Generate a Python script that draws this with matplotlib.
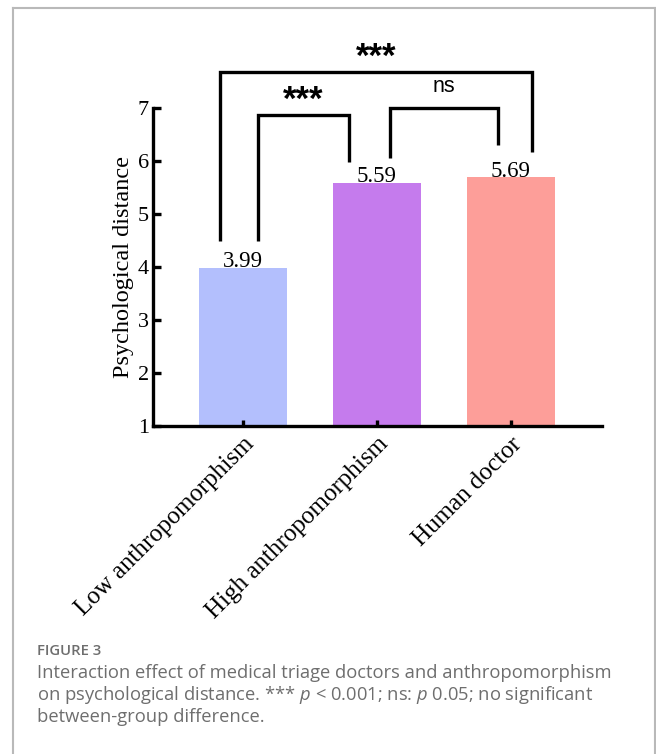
import matplotlib
matplotlib.use("Agg")
import matplotlib.pyplot as plt
from matplotlib.lines import Line2D

plt.rcParams["mathtext.fontset"] = "custom"
plt.rcParams["mathtext.it"] = "Open Sans:italic"
plt.rcParams["mathtext.rm"] = "Open Sans"

# data
groups = ["Low anthropomorphism", "High anthropomorphism", "Human doctor"]
means = [3.99, 5.59, 5.69]
colors = ["#b3bffd", "#c57bed", "#fd9e99"]

# significance brackets: x left, x right, y left leg, y right leg, y top, label
brackets = [
    (-0.17, 2.16, 4.49, 6.17, 7.68, "***"),
    (0.11, 0.79, 4.49, 5.98, 6.87, "***"),
    (1.10, 1.90, 6.06, 6.30, 7.00, "ns"),
]

serif = "Liberation Serif"
sans = "Liberation Sans"

fig = plt.figure(figsize=(6.56, 7.54), dpi=100)
ax = fig.add_axes([0.2332, 0.435, 0.6845, 0.4218])

ax.bar(range(len(groups)), means, width=0.657, color=colors, zorder=1)
for i, m in enumerate(means):
    ax.text(i, m + 0.01, f"{m:.2f}", ha="center", va="baseline",
            fontsize=16.5, family=serif)

lw = 2.4
for x1, x2, y1, y2, top, lab in brackets:
    ax.plot([x1, x1, x2, x2], [y1, top, top, y2], color="black", lw=lw,
            clip_on=False, solid_joinstyle="miter", solid_capstyle="butt")
    if lab == "ns":
        ax.text((x1 + x2) / 2, top + 0.2, lab, ha="center", va="bottom",
                fontsize=15.5, family=sans)
    else:
        ax.text((x1 + x2) / 2, top + 0.1, lab, ha="center", va="baseline",
                fontsize=25, family=sans, fontweight="bold")

ax.set_xlim(-0.672, 2.68)
ax.set_ylim(1, 7)
ax.set_yticks(range(1, 8))
ax.set_xticks(range(len(groups)))
ax.set_xticklabels(groups, rotation=45, ha="right", va="top",
                   rotation_mode="anchor", fontsize=18, family=serif)
for t in ax.get_yticklabels():
    t.set_family(serif)
    t.set_fontsize(16)
ax.tick_params(axis="y", direction="in", length=6, width=lw, pad=3)
ax.tick_params(axis="x", direction="in", length=4.5, width=lw, pad=5)
ax.spines["top"].set_visible(False)
ax.spines["right"].set_visible(False)
for s in ["left", "bottom"]:
    ax.spines[s].set_linewidth(lw)
ax.set_ylabel("Psychological distance", fontsize=17.5, family=serif, labelpad=3)

# page frame
gray = "#b9b9b9"
fig.add_artist(Line2D([13 / 656, 13 / 656], [0, 1 - 8 / 754], color=gray, lw=1.5))
fig.add_artist(Line2D([13 / 656, 655 / 656], [1 - 8 / 754, 1 - 8 / 754], color=gray, lw=1.5))
fig.add_artist(Line2D([655 / 656, 655 / 656], [0, 1 - 8 / 754], color=gray, lw=1.5))

# caption
cap = "#6e6e6e"
fig.text(37 / 656, 1 - 655 / 754, "FIGURE 3", fontsize=10.7, family="Open Sans",
         fontweight="semibold", color=cap, va="baseline")
lines = [
    "Interaction effect of medical triage doctors and anthropomorphism",
    r"on psychological distance. *** $\it{p}$ < 0.001; ns: $\it{p}$ 0.05; no significant",
    "between-group difference.",
]
for k, line in enumerate(lines):
    fig.text(37 / 656, 1 - (678 + 22 * k) / 754, line, fontsize=13.2,
             family="Open Sans", color=cap, va="baseline")

fig.savefig("out.png", dpi=100)
